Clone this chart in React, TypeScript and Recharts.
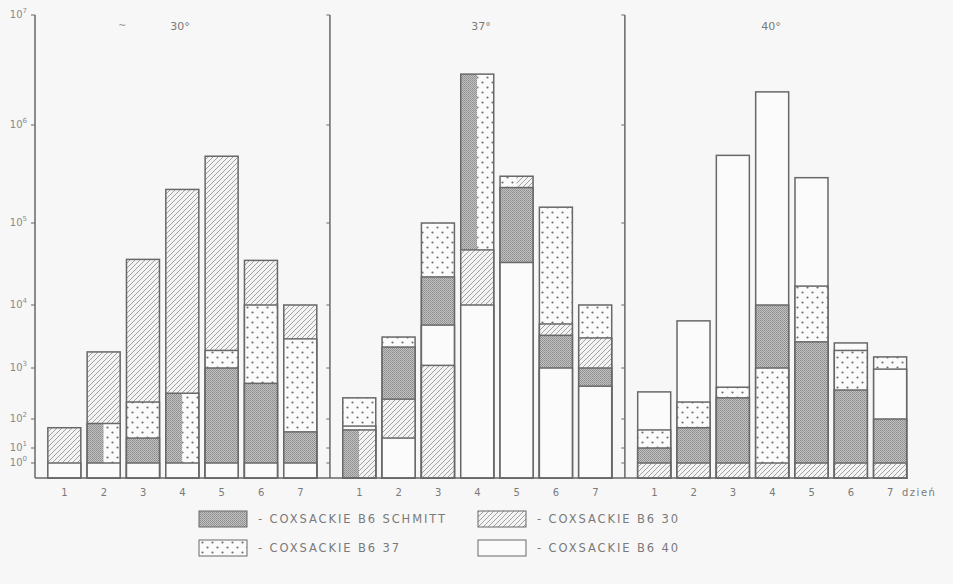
import React from 'react';
import { BarChart, Bar, XAxis, YAxis, ReferenceLine } from 'recharts';

// virus titre per day, one array per strain and incubation temperature (null = not shown)
const DAYS = [1, 2, 3, 4, 5, 6, 7];
const PANELS = ['30°', '37°', '40°'];

const SCHMITT_30 = [null, 70, 22, 320, 1000, 500, 36];
const B30_30 = [50, 1800, 36000, 220000, 480000, 35000, 10000];
const B37_30 = [null, 70, 215, 320, 1900, 10000, 2900];
const B40_30 = [1, 1, 1, 1, 1, 1, 1];

const SCHMITT_37 = [42, 2150, 22000, 2900000, 230000, 3300, 1000];
const B30_37 = [42, 245, 1100, 47000, 300000, 5000, 3000];
const B37_37 = [260, 3100, 100000, 2900000, 300000, 145000, 10000];
const B40_37 = [57, 22, 4800, 10000, 33000, 1000, 440];

const SCHMITT_40 = [10, 50, 260, 10000, 2600, 370, 100];
const B30_40 = [1, 1, 1, 1, 1, 1, 1];
const B37_40 = [42, 215, 420, 1000, 17000, 1900, 1500];
const B40_40 = [340, 5600, 490000, 2000000, 290000, 2500, 950];

const DECADES = [0, 1, 2, 3, 4, 5, 6, 7];
// the printed axis is not evenly spaced: height of each decade mark above the baseline
const DECADE_POS = [15, 30, 59, 110, 173, 255, 353, 463];

const STRAINS = [
  { key: 'schmitt', label: '- COXSACKIE B6  SCHMITT', fill: 'url(#pSchmitt)', data: [SCHMITT_30, SCHMITT_37, SCHMITT_40] },
  { key: 'b37', label: '- COXSACKIE B6  37', fill: 'url(#pDots)', data: [B37_30, B37_37, B37_40] },
  { key: 'b30', label: '- COXSACKIE B6  30', fill: 'url(#pHatch)', data: [B30_30, B30_37, B30_40] },
  { key: 'b40', label: '- COXSACKIE B6  40', fill: '#fbfbfb', data: [B40_30, B40_37, B40_40] },
];
const FILLS: Record<string, string> = Object.fromEntries(STRAINS.map((s) => [s.key, s.fill]));

const INK = '#686868';
const TEXT = '#7a7a7a';
const FONT = '"DejaVu Sans", sans-serif';

// value -> axis position, interpolated between the printed decade marks
const yPos = (v: number) => {
  const e = Math.log10(v);
  const i = Math.min(Math.floor(e), 6);
  return DECADE_POS[i] + (e - i) * (DECADE_POS[i + 1] - DECADE_POS[i]);
};

const LAYERS = [0, 1, 2, 3];

const rows = PANELS.flatMap((_, pi) =>
  DAYS.map((day, di) => {
    const row: any = { x: pi * 7.5 + 0.75 + di, day };
    const groups: { v: number; keys: string[] }[] = [];
    STRAINS.forEach((s) => {
      const v = s.data[pi][di];
      if (v == null) return;
      const g = groups.find((gr) => gr.v === v);
      if (g) g.keys.push(s.key);
      else groups.push({ v, keys: [s.key] });
    });
    groups.sort((a, b) => b.v - a.v);
    groups.forEach((g, i) => {
      row[`l${i}`] = yPos(g.v);
      row[`k${i}`] = g.keys;
    });
    return row;
  })
);

const LayerShape = (props: any) => {
  const { x, y, width, height, layer, index } = props;
  const row = props.payload ?? rows[index];
  const keys: string[] | undefined = row && row[`k${layer}`];
  if (!keys || !(height > 0)) return null;
  const w = width / keys.length;
  return (
    <g>
      {keys.map((k, i) => (
        <rect key={k} x={x + i * w} y={y} width={w} height={height} fill={FILLS[k]} />
      ))}
      <rect x={x} y={y} width={width} height={height} fill="none" stroke={INK} strokeWidth={1.5} />
    </g>
  );
};

const YTick = (props: any) => {
  const { x, y, index } = props;
  return (
    <text x={x - 2} y={y + 3} textAnchor="end" fill="#8a8a8a" fontSize={10} fontFamily={FONT}>
      10
      <tspan dy={-5} fontSize={7}>
        {DECADES[index]}
      </tspan>
    </text>
  );
};

const Patterns = () => (
  <svg width={0} height={0} style={{ position: 'absolute' }}>
    <defs>
      <pattern id="pSchmitt" width={2} height={2} patternUnits="userSpaceOnUse">
        <rect width={2} height={2} fill="#c2c2c2" />
        <rect width={1} height={1} fill="#8c8c8c" />
        <rect x={1} y={1} width={1} height={1} fill="#979797" />
      </pattern>
      <pattern id="pHatch" width={5} height={5} patternUnits="userSpaceOnUse">
        <rect width={5} height={5} fill="#f3f3f3" />
        <path d="M0,5 L5,0 M-1,1 L1,-1 M4,6 L6,4" stroke="#a2a2a2" strokeWidth={1} />
      </pattern>
      <pattern id="pDots" width={10} height={10} patternUnits="userSpaceOnUse">
        <rect width={10} height={10} fill="#fbfbfb" />
        <circle cx={2.5} cy={2.5} r={1.1} fill="#707070" />
        <circle cx={7.5} cy={7.5} r={1.1} fill="#707070" />
      </pattern>
    </defs>
  </svg>
);

const TITLES = [
  { text: '30°', x: 180 },
  { text: '37°', x: 481 },
  { text: '40°', x: 771 },
];

export default function App() {
  return (
    <div style={{ position: 'absolute', left: 0, top: 0, width: 953, height: 584, background: '#f7f7f7' }}>
      <Patterns />
      <BarChart
        width={953}
        height={584}
        data={rows}
        margin={{ top: 15, right: 45, left: 0, bottom: 76 }}
        barGap={-33}
      >
        <XAxis
          type="number"
          dataKey="x"
          domain={[0, 22.2]}
          ticks={rows.map((r) => r.x)}
          interval={0}
          tickFormatter={(v: number) => String(rows.find((r) => r.x === v)?.day ?? '')}
          tickLine={false}
          tickSize={9}
          axisLine={{ stroke: INK, strokeWidth: 1.5 }}
          tick={{ fill: TEXT, fontSize: 10, fontFamily: FONT }}
          height={30}
        />
        <YAxis
          type="number"
          domain={[0, 463]}
          ticks={DECADE_POS}
          interval={0}
          width={35}
          tickSize={4}
          axisLine={{ stroke: INK, strokeWidth: 1.5 }}
          tickLine={{ stroke: INK }}
          tick={<YTick />}
        />
        <ReferenceLine x={7.5} stroke={INK} strokeWidth={1.5} />
        <ReferenceLine x={15} stroke={INK} strokeWidth={1.5} />
        {[7.5, 15].flatMap((dx) =>
          DECADE_POS.map((p) => (
            <ReferenceLine
              key={`${dx}-${p}`}
              segment={[
                { x: dx - 0.09, y: p },
                { x: dx, y: p },
              ]}
              stroke={INK}
            />
          ))
        )}
        {LAYERS.map((i) => (
          <Bar
            key={i}
            dataKey={`l${i}`}
            barSize={33}
            isAnimationActive={false}
            shape={(p: any) => <LayerShape {...p} layer={i} />}
          />
        ))}
      </BarChart>
      <svg
        width={953}
        height={584}
        style={{ position: 'absolute', left: 0, top: 0, pointerEvents: 'none' }}
        fontFamily={FONT}
      >
        {TITLES.map((t) => (
          <text key={t.text} x={t.x} y={30} textAnchor="middle" fontSize={11} fill={TEXT}>
            {t.text}
          </text>
        ))}
        <text x={118} y={29} fontSize={10} fill="#9a9a9a">~</text>
        <text x={902} y={496} fontSize={10} fill={TEXT} letterSpacing={1.5}>
          dzień
        </text>
        {STRAINS.map((s, i) => {
          const col = i === 0 || i === 1 ? 0 : 1;
          const rowIdx = i === 0 || i === 2 ? 0 : 1;
          const sx = col === 0 ? 199 : 478;
          const sy = rowIdx === 0 ? 511 : 540;
          return (
            <g key={s.key}>
              <rect x={sx} y={sy} width={48} height={16} fill={s.fill} stroke={INK} strokeWidth={1} />
              <text x={sx + 59} y={sy + 12} fontSize={11.5} fill={TEXT} letterSpacing={1.9}>
                {s.label}
              </text>
            </g>
          );
        })}
      </svg>
    </div>
  );
}
